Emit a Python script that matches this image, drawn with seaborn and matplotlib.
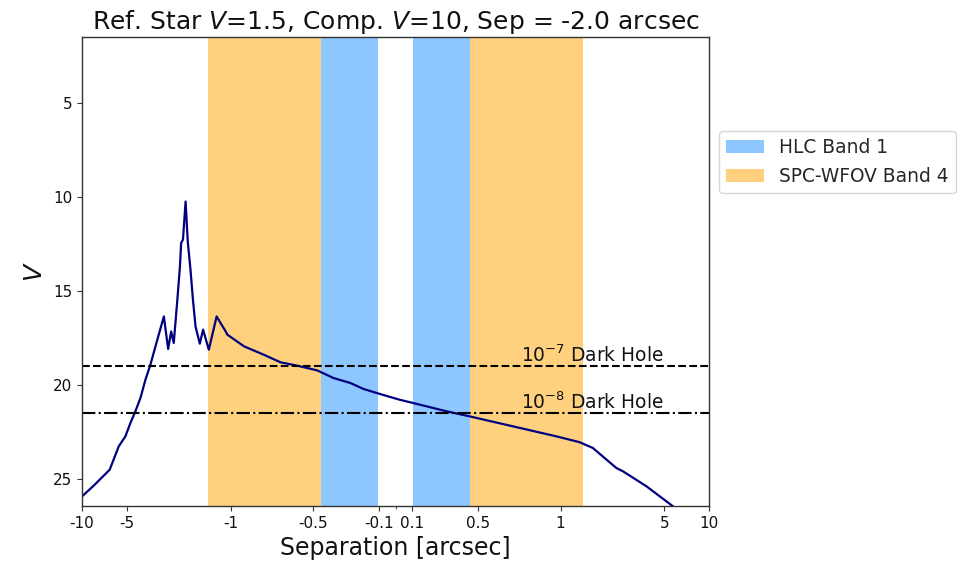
import matplotlib
matplotlib.use("Agg")
import matplotlib.pyplot as plt
import seaborn as sns
import numpy as np
import pandas as pd

# ---- data ----
sep = [-10, -8.35, -6.51, -5.66, -5.10, -4.72, -4.37, -4.04, -3.74, -3.46, -3.20,
       -2.81, -2.63, -2.51, -2.41, -2.28, -2.19, -2.15, -2.09, -2.006, -1.94, -1.86,
       -1.79, -1.72, -1.61, -1.53, -1.40, -1.24, -1.077, -1.05, -0.918, -0.798,
       -0.697, -0.596, -0.475, -0.375, -0.274, -0.194, -0.093, 0.024, 0.108, 0.31,
       0.45, 0.712, 0.974, 1.34, 1.65, 2.38, 2.63, 3.79, 5.73, 7.0]
vmag = [25.94, 25.37, 24.52, 23.28, 22.74, 22.03, 21.41, 20.70, 19.73, 18.92, 17.95,
        16.36, 18.09, 17.16, 17.77, 15.47, 13.70, 12.45, 12.27, 10.24, 12.37, 13.87,
        15.47, 16.89, 17.81, 17.06, 18.13, 16.36, 17.16, 17.33, 17.95, 18.40,
        18.80, 18.98, 19.23, 19.64, 19.90, 20.22, 20.49, 20.79, 20.97, 21.41,
        21.68, 22.21, 22.74, 23.05, 23.36, 24.43, 24.60, 25.40, 26.47, 27.2]

hlc_band1 = [0.105, 0.45]
spc_wfov_band4 = [0.45, 1.41]
dark_holes = [19.0, 21.5]
dark_hole_labels = [r"$10^{-7}$ Dark Hole", r"$10^{-8}$ Dark Hole"]
xticks = [-10, -5, -1, -0.5, -0.1, 0.1, 0.5, 1, 5, 10]
xticklabels = ["-10", "-5", "-1", "-0.5", "-0.1", "0.1", "0.5", "1", "5", "10"]
yticks = [5, 10, 15, 20, 25]

df = pd.DataFrame({"sep": sep, "V": vmag})

sns.set_style("ticks")
plt.rcParams["font.family"] = ["DejaVu Sans"]

fig = plt.figure(figsize=(9.7, 5.65), dpi=100)
ax = fig.add_axes([82/970, 1-506/565, (709-82)/970, (506-37.3)/565])

ax.set_xscale("symlog", linthresh=1, linscale=1)

h1 = ax.axvspan(-hlc_band1[1], -hlc_band1[0], color="dodgerblue", alpha=0.5, lw=0, label="HLC Band 1")
ax.axvspan(hlc_band1[0], hlc_band1[1], color="dodgerblue", alpha=0.5, lw=0)
h2 = ax.axvspan(-spc_wfov_band4[1], -spc_wfov_band4[0], color="orange", alpha=0.5, lw=0, label="SPC-WFOV Band 4")
ax.axvspan(spc_wfov_band4[0], spc_wfov_band4[1], color="orange", alpha=0.5, lw=0)

sns.lineplot(data=df, x="sep", y="V", ax=ax, color="navy", lw=1.6, legend=False)

ax.axhline(dark_holes[0], color="black", ls="--", lw=1.5)
ax.axhline(dark_holes[1], color="black", ls="-.", lw=1.5)
for yv, lab in zip(dark_holes, dark_hole_labels):
    ax.text(0.76, yv - 0.02, lab, fontsize=13.4, ha="left", va="bottom", color="#111111")

ax.set_xlim(-10, 10)
ax.set_ylim(26.45, 1.5)
ax.set_xticks(xticks)
ax.set_xticklabels(xticklabels)
ax.set_xticks([0], minor=True)
ax.set_yticks(yticks)
ax.tick_params(axis="both", labelsize=11, color="#333333", labelcolor="#111111")
ax.tick_params(which="minor", length=2)
for s in ax.spines.values():
    s.set_color("#333333")
    s.set_linewidth(1.0)

ax.set_xlabel("Separation [arcsec]", fontsize=17, color="#111111")
ax.set_ylabel("$V$", fontsize=18, color="#111111")
ax.set_title("Ref. Star $V$=1.5, Comp. $V$=10, Sep = -2.0 arcsec", fontsize=18, color="#111111")

ax.legend(handles=[h1, h2], loc="upper left", bbox_to_anchor=(1.016, 0.8),
          borderaxespad=0, fontsize=13.4, frameon=True)

fig.savefig("out.png", dpi=100)
